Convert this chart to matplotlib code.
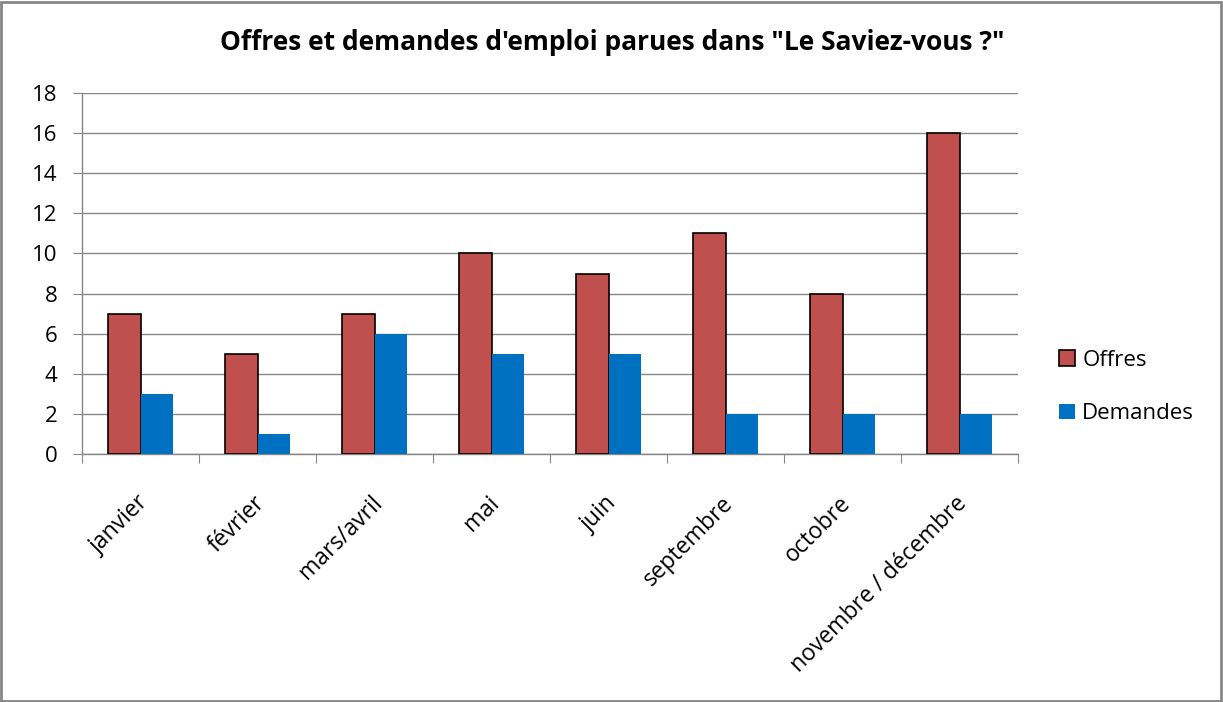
import matplotlib
matplotlib.use("Agg")
import matplotlib.pyplot as plt
import numpy as np
from matplotlib.patches import Rectangle

categories = ["janvier", "février", "mars/avril", "mai", "juin", "septembre", "octobre", "novembre / décembre"]
offres = [7, 5, 7, 10, 9, 11, 8, 16]
demandes = [3, 1, 6, 5, 5, 2, 2, 2]
yticks = [0, 2, 4, 6, 8, 10, 12, 14, 16, 18]
title = "Offres et demandes d'emploi parues dans \"Le Saviez-vous ?\""

plt.rcParams['font.family'] = ['Open Sans', 'DejaVu Sans']

W, H = 1223, 702
fig = plt.figure(figsize=(W/100, H/100), dpi=100)
ax = fig.add_axes([82/W, 1-454/H, (1018-82)/W, (454-93)/H])

x = np.arange(len(categories))
bw = 0.282
grid_c = "#868686"
ax.bar(x - bw/2, offres, width=bw, color="#C0504D", edgecolor="black", linewidth=1.2, label="Offres", zorder=3)
ax.bar(x + bw/2, demandes, width=bw, color="#0070C0", linewidth=0, label="Demandes", zorder=3)

ax.set_xlim(-0.5, len(categories) - 0.5)
ax.set_ylim(0, 18)
ax.set_yticks(yticks)
ax.set_yticklabels([str(v) for v in yticks], fontsize=16)
ax.yaxis.grid(True, color=grid_c, linewidth=1)
ax.set_axisbelow(True)
for s in ["top", "right"]:
    ax.spines[s].set_visible(False)
for s in ["left", "bottom"]:
    ax.spines[s].set_color(grid_c)
    ax.spines[s].set_linewidth(1)
ax.tick_params(axis="y", length=6.5, color=grid_c, pad=11)

# x ticks at category boundaries
ax.set_xticks(np.arange(-0.5, len(categories) + 0.5, 1.0))
ax.set_xticklabels([])
ax.tick_params(axis="x", length=6.5, color=grid_c)
for i, lab in enumerate(categories):
    ax.annotate(lab, xy=(i, 0), xycoords=("data", "axes fraction"),
                xytext=(-3, -27), textcoords="offset points",
                rotation=45, ha="right", va="top", rotation_mode="anchor",
                fontsize=16.5)

fig.text(612/W, 1-42/H, title, fontsize=19, fontweight="bold", ha="center", va="center")

leg = fig.legend(loc="upper left", bbox_to_anchor=(1039/W, 1-330/H), frameon=False,
                 fontsize=16, handlelength=0.7, handleheight=0.7, handletextpad=0.35,
                 labelspacing=1.45)

# figure border
fig.patches.append(Rectangle((1/W, 1/H), 1-3/W, 1-3/H, transform=fig.transFigure,
                             fill=False, edgecolor="#868686", linewidth=2))

fig.savefig("out.png", dpi=100)
